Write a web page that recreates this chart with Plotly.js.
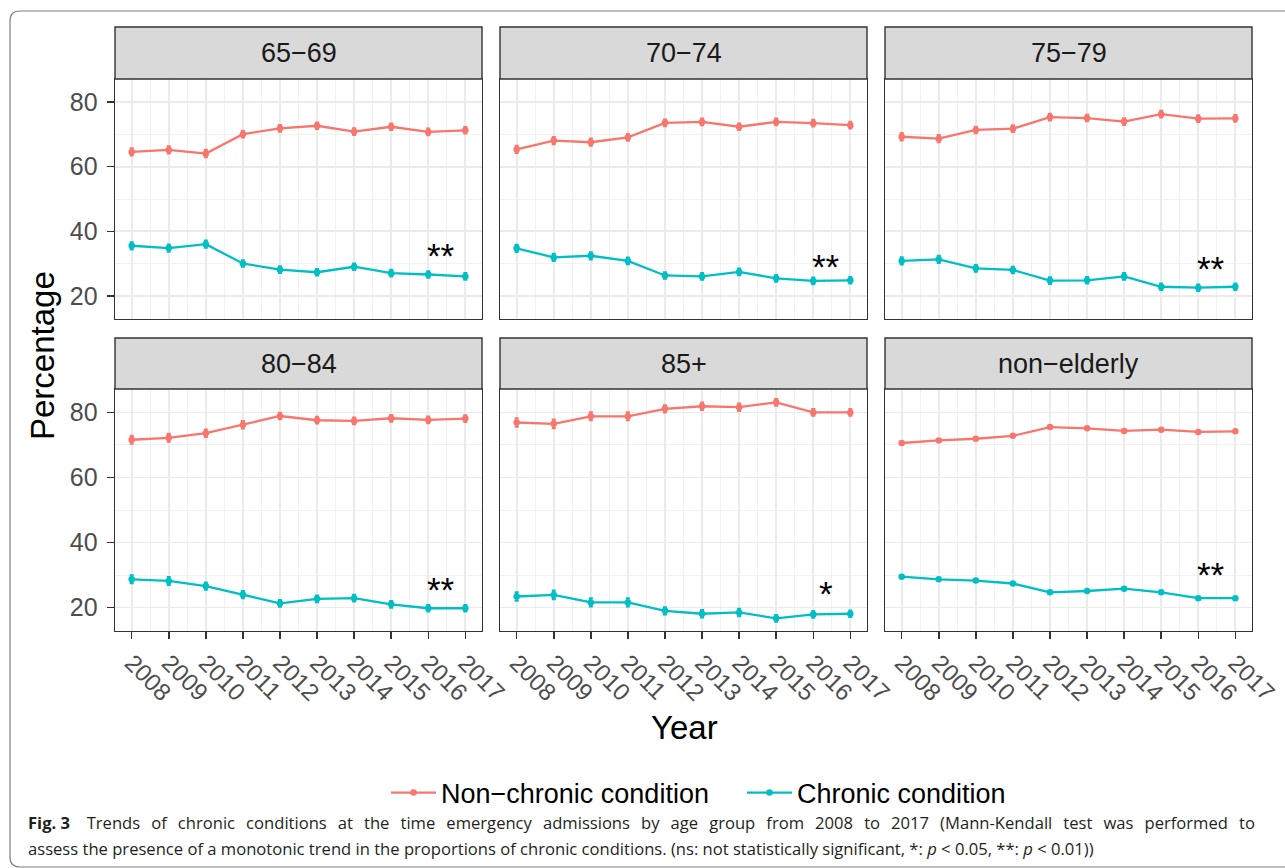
<!DOCTYPE html>
<html>
<head>
<meta charset="utf-8">
<script src="https://cdn.plot.ly/plotly-3.0.1.min.js"></script>
<style>
  html, body { margin: 0; padding: 0; background: #ffffff; }
  #chart { width: 1285px; height: 868px; }
</style>
</head>
<body>
<div id="chart"></div>
<script>
// ---------------- DATA ----------------
const years = [2008, 2009, 2010, 2011, 2012, 2013, 2014, 2015, 2016, 2017];
const panelNames = ["65−69", "70−74", "75−79", "80−84", "85+", "non−elderly"];
const seriesNames = ["Non−chronic condition", "Chronic condition"];

const nonChronic_65_69 = [64.6, 65.2, 64.1, 70.1, 71.9, 72.7, 70.9, 72.4, 70.8, 71.3];
const chronic_65_69    = [35.5, 34.8, 36.0, 30.0, 28.1, 27.3, 29.0, 27.0, 26.6, 26.0];
const nonChronic_70_74 = [65.4, 68.1, 67.6, 69.1, 73.6, 73.9, 72.4, 73.9, 73.5, 72.9];
const chronic_70_74    = [34.7, 31.9, 32.4, 30.8, 26.3, 26.0, 27.4, 25.4, 24.6, 24.8];
const nonChronic_75_79 = [69.3, 68.7, 71.4, 71.8, 75.4, 75.1, 74.0, 76.3, 74.9, 75.0];
const chronic_75_79    = [30.8, 31.3, 28.5, 28.0, 24.7, 24.8, 26.0, 22.8, 22.5, 22.8];
const nonChronic_80_84 = [71.6, 72.2, 73.6, 76.2, 78.9, 77.6, 77.4, 78.2, 77.7, 78.1];
const chronic_80_84    = [28.7, 28.2, 26.6, 24.0, 21.3, 22.7, 22.9, 21.0, 19.8, 19.8];
const nonChronic_85    = [76.9, 76.5, 78.8, 78.8, 81.1, 81.9, 81.6, 83.1, 80.0, 80.0];
const chronic_85       = [23.4, 23.9, 21.6, 21.6, 19.0, 18.1, 18.5, 16.7, 17.9, 18.1];
const nonChronic_nonEl = [70.6, 71.4, 71.9, 72.8, 75.5, 75.1, 74.3, 74.7, 74.0, 74.2];
const chronic_nonEl    = [29.5, 28.7, 28.3, 27.4, 24.7, 25.1, 25.8, 24.7, 22.9, 22.9];

// half-widths of the error bars (95% CI) per panel
const ciHalf_65_69 = [1.1, 1.1, 1.1, 1.0, 1.0, 1.0, 1.0, 1.0, 1.0, 1.0];
const ciHalf_70_74 = [1.1, 1.1, 1.1, 1.0, 1.0, 1.0, 1.0, 1.0, 1.0, 1.0];
const ciHalf_75_79 = [1.1, 1.1, 1.0, 1.0, 1.0, 1.0, 1.0, 1.0, 1.0, 1.0];
const ciHalf_80_84 = [1.2, 1.2, 1.1, 1.1, 1.0, 1.0, 1.0, 1.0, 1.0, 1.0];
const ciHalf_85    = [1.3, 1.3, 1.2, 1.2, 1.1, 1.1, 1.1, 1.0, 1.0, 1.0];
const ciHalf_nonEl = [0.3, 0.3, 0.3, 0.3, 0.3, 0.3, 0.3, 0.3, 0.3, 0.3];

// significance labels (Mann-Kendall) per panel
const sigLabels = ["**", "**", "**", "**", "*", "**"];
const sigX      = [2016.35, 2016.35, 2016.35, 2016.35, 2016.35, 2016.35];
const sigY      = [33.8, 30.4, 29.9, 26.8, 25.6, 31.6];

const yTicks = [20, 40, 60, 80];

// ---------------- BUILD ----------------
const nonChronic = [nonChronic_65_69, nonChronic_70_74, nonChronic_75_79, nonChronic_80_84, nonChronic_85, nonChronic_nonEl];
const chronic    = [chronic_65_69, chronic_70_74, chronic_75_79, chronic_80_84, chronic_85, chronic_nonEl];
const ciHalf     = [ciHalf_65_69, ciHalf_70_74, ciHalf_75_79, ciHalf_80_84, ciHalf_85, ciHalf_nonEl];

const FONT = "Liberation Sans";
const colors = ["#F8766D", "#00BFC4"];
const W = 1285, H = 868;
const px = v => v / W;
const py = v => 1 - v / H;

const colX = [[115, 482], [500, 867], [885, 1252]];
const rowPlotY = [[79, 319], [389, 631]];
const rowStripY = [[27, 79], [338, 389]];

const traces = [];
const legendCommon = {
  orientation: "h", y: py(793), yanchor: "middle", xanchor: "left",
  font: {size: 27, color: "#000000", family: FONT},
  itemwidth: 45, bgcolor: "rgba(0,0,0,0)"
};
const layout = {
  width: W, height: H,
  margin: {l: 0, r: 0, t: 0, b: 0},
  paper_bgcolor: "#ffffff",
  plot_bgcolor: "#ffffff",
  font: {family: FONT, color: "#4d4d4d"},
  showlegend: true,
  legend: Object.assign({}, legendCommon, {x: px(386)}),
  legend2: Object.assign({}, legendCommon, {x: px(742)}),
  shapes: [],
  annotations: []
};

for (let p = 0; p < 6; p++) {
  const r = Math.floor(p / 3), c = p % 3;
  const idx = p + 1;
  const xa = idx === 1 ? "x" : "x" + idx;
  const ya = idx === 1 ? "y" : "y" + idx;
  const series = [nonChronic[p], chronic[p]];
  for (let s = 0; s < 2; s++) {
    traces.push({
      type: "scatter", mode: "lines+markers",
      x: years, y: series[s],
      xaxis: xa, yaxis: ya,
      name: seriesNames[s], legendgroup: seriesNames[s],
      legend: s === 0 ? "legend" : "legend2",
      showlegend: p === 0,
      line: {color: colors[s], width: 2.3},
      marker: {color: colors[s], size: 6.5},
      error_y: {type: "data", array: ciHalf[p], visible: true, color: colors[s], thickness: 2.2, width: 2},
      hoverinfo: "x+y+name"
    });
  }
  const xKey = idx === 1 ? "xaxis" : "xaxis" + idx;
  const yKey = idx === 1 ? "yaxis" : "yaxis" + idx;
  layout[xKey] = {
    domain: [px(colX[c][0]), px(colX[c][1])],
    anchor: ya,
    range: [2007.55, 2017.45],
    tickmode: "array", tickvals: years, ticktext: years.map(String),
    showticklabels: r === 1,
    ticks: r === 1 ? "outside" : "",
    ticklen: 7, tickwidth: 1.5, tickcolor: "#333333",
    tickangle: 45,
    tickfont: {size: 24, color: "#4d4d4d", family: FONT},
    showgrid: true, gridcolor: "#ebebeb", gridwidth: 1.8,
    minor: {dtick: 0.5, tick0: 2007.5, showgrid: true, gridcolor: "#f0f0f0", gridwidth: 0.9, ticks: ""},
    showline: true, mirror: true, linecolor: "#333333", linewidth: 1.4,
    zeroline: false, fixedrange: true
  };
  layout[yKey] = {
    domain: [py(rowPlotY[r][1]), py(rowPlotY[r][0])],
    anchor: xa,
    range: [12.8, 87.2],
    tickmode: "array", tickvals: yTicks, ticktext: yTicks.map(String),
    showticklabels: c === 0,
    ticks: c === 0 ? "outside" : "",
    ticklen: 7, tickwidth: 1.5, tickcolor: "#333333",
    ticklabelstandoff: 4,
    tickfont: {size: 25, color: "#4d4d4d", family: FONT},
    showgrid: true, gridcolor: "#ebebeb", gridwidth: 1.8,
    minor: {dtick: 10, tick0: 10, showgrid: true, gridcolor: "#f0f0f0", gridwidth: 0.9, ticks: ""},
    showline: true, mirror: true, linecolor: "#333333", linewidth: 1.4,
    zeroline: false, fixedrange: true
  };
  // strip
  layout.shapes.push({
    type: "rect", xref: "paper", yref: "paper",
    x0: px(colX[c][0]), x1: px(colX[c][1]),
    y0: py(rowStripY[r][1]), y1: py(rowStripY[r][0]),
    fillcolor: "#d9d9d9", line: {color: "#333333", width: 1.4}, layer: "above"
  });
  layout.annotations.push({
    xref: "paper", yref: "paper",
    x: px((colX[c][0] + colX[c][1]) / 2), y: py((rowStripY[r][0] + rowStripY[r][1]) / 2),
    text: panelNames[p], showarrow: false, xanchor: "center", yanchor: "middle",
    font: {size: 27, color: "#1a1a1a", family: FONT}
  });
  // significance stars
  layout.annotations.push({
    xref: xa, yref: ya, x: sigX[p], y: sigY[p] - 1.35,
    text: sigLabels[p], showarrow: false, xanchor: "center", yanchor: "middle",
    font: {size: 35, color: "#000000", family: FONT}
  });
}

// axis titles
layout.annotations.push({
  xref: "paper", yref: "paper", x: px(42), y: py(356),
  text: "Percentage", showarrow: false, textangle: -90,
  xanchor: "center", yanchor: "middle",
  font: {size: 33, color: "#000000", family: FONT}
});
layout.annotations.push({
  xref: "paper", yref: "paper", x: px(684), y: py(727),
  text: "Year", showarrow: false, xanchor: "center", yanchor: "middle",
  font: {size: 33, color: "#000000", family: FONT}
});

// caption (line 1 is justified in the original)
const cap1 = "Trends of chronic conditions at the time emergency admissions by age group from 2008 to 2017 (Mann-Kendall test was performed to";
const cap2 = "assess the presence of a monotonic trend in the proportions of chronic conditions. (ns: not statistically significant, *: <i>p</i> < 0.05, **: <i>p</i> < 0.01))";
layout.annotations.push({
  xref: "paper", yref: "paper", x: px(26), y: py(822),
  text: "<b>Fig. 3</b>\u2002\u2002" + cap1.split(" ").join("\u2002\u2006"),
  showarrow: false, xanchor: "left", yanchor: "middle", align: "left",
  font: {size: 16.6, color: "#231f20", family: "Open Sans"}
});
layout.annotations.push({
  xref: "paper", yref: "paper", x: px(26), y: py(848),
  text: cap2,
  showarrow: false, xanchor: "left", yanchor: "middle", align: "left",
  font: {size: 16.6, color: "#231f20", family: "Open Sans"}
});

// outer rounded frame
(function () {
  const L = 10, T = 11, B = 867, R = 1300, rad = 10;
  const path = "M " + px(R) + " " + py(T) +
    " L " + px(L + rad) + " " + py(T) +
    " Q " + px(L) + " " + py(T) + " " + px(L) + " " + py(T + rad) +
    " L " + px(L) + " " + py(B - rad) +
    " Q " + px(L) + " " + py(B) + " " + px(L + rad) + " " + py(B) +
    " L " + px(R) + " " + py(B);
  layout.shapes.push({type: "path", xref: "paper", yref: "paper", path: path,
    line: {color: "#7f7f7f", width: 1.2}, layer: "below"});
})();

Plotly.newPlot("chart", traces, layout, {displayModeBar: false, staticPlot: true});
</script>
</body>
</html>
